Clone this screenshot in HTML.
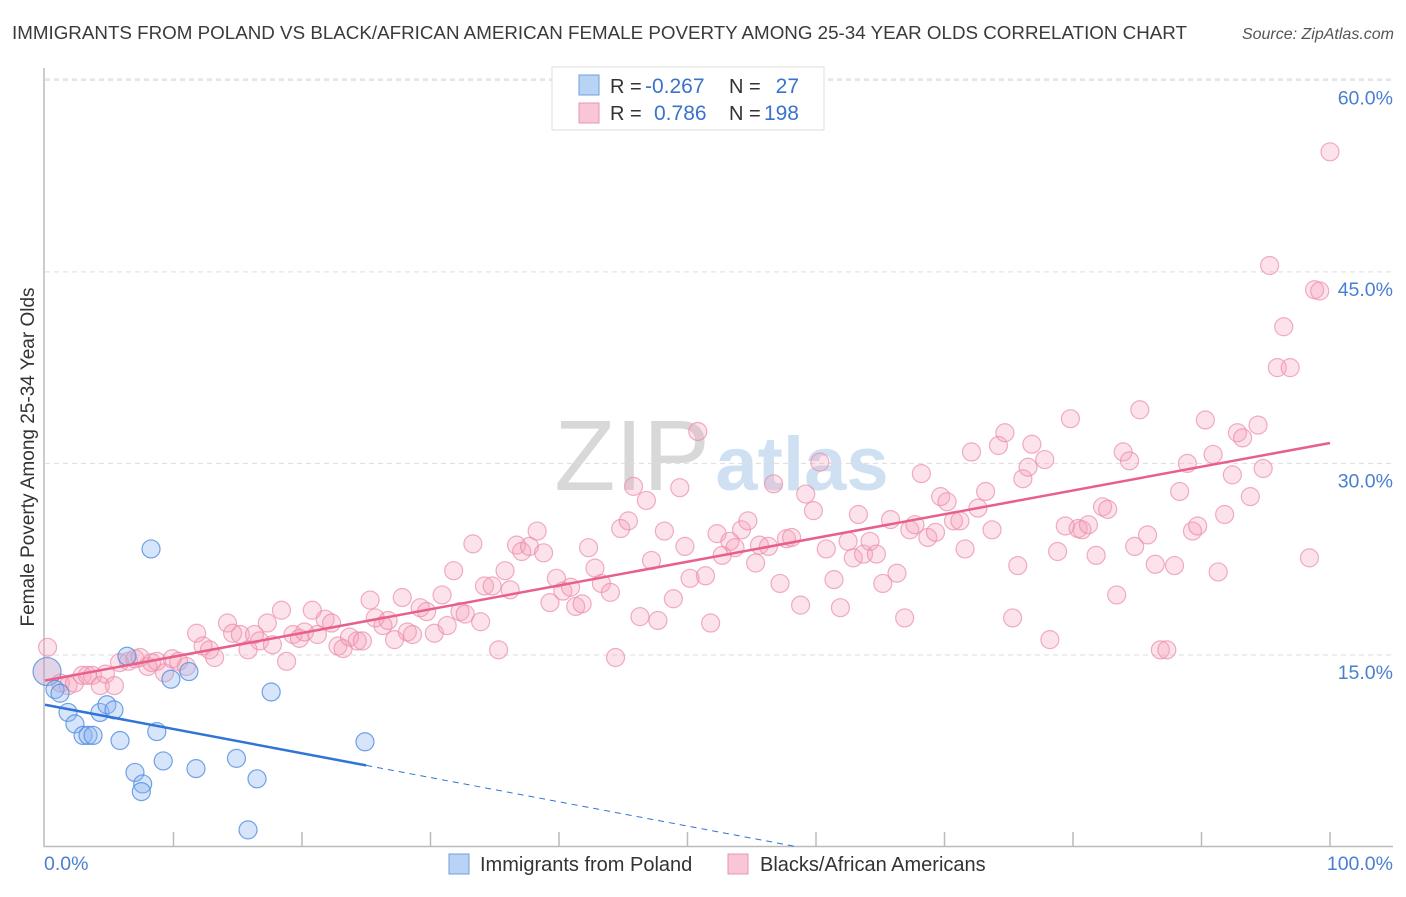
<!DOCTYPE html>
<html><head><meta charset="utf-8"><style>
body{margin:0;background:#fff;font-family:"Liberation Sans",sans-serif;}
svg text{font-family:"Liberation Sans",sans-serif;}
</style></head><body>
<svg id="chart" width="1406" height="892" viewBox="0 0 1406 892" xmlns="http://www.w3.org/2000/svg">
<text x="12" y="39" font-size="18.6" fill="#3a3a3a" textLength="1175" lengthAdjust="spacingAndGlyphs">IMMIGRANTS FROM POLAND VS BLACK/AFRICAN AMERICAN FEMALE POVERTY AMONG 25-34 YEAR OLDS CORRELATION CHART</text>
<text x="1394" y="39" font-size="16" fill="#555" font-style="italic" text-anchor="end">Source: ZipAtlas.com</text>
<g>
<text x="632" y="490" font-size="100" fill="#d8d8d8" font-family="Liberation Serif" text-anchor="middle">ZIP</text>
<text x="802" y="490" font-size="76" fill="#cfe0f3" text-anchor="middle" font-weight="bold">atlas</text>
</g>
<g id="grid"></g>
<g id="axes"></g>
<g id="marks"></g>
<text transform="translate(34,457) rotate(-90)" font-size="19" fill="#333" text-anchor="middle">Female Poverty Among 25-34 Year Olds</text>
<text x="44" y="870" font-size="19.5" fill="#4a7fd0">0.0%</text>
<text x="1393" y="870" font-size="19.5" fill="#4a7fd0" text-anchor="end">100.0%</text>
<g>
<rect x="552" y="67" width="272" height="63" fill="#fff" stroke="#ddd"/>
<rect x="579" y="75" width="20" height="20" fill="#b9d3f5" stroke="#6a9fe0"/>
<rect x="579" y="103" width="20" height="20" fill="#f9c6d5" stroke="#eb94b0"/>
<text x="610" y="93" font-size="20" fill="#333">R = </text><text x="645" y="93" font-size="21" fill="#3a72cc">-0.267</text>
<text x="729" y="93" font-size="20" fill="#333">N = </text><text x="799" y="93" font-size="21" fill="#3a72cc" text-anchor="end">27</text>
<text x="610" y="120" font-size="20" fill="#333">R = </text><text x="654" y="120" font-size="21" fill="#3a72cc">0.786</text>
<text x="729" y="120" font-size="20" fill="#333">N = </text><text x="799" y="120" font-size="21" fill="#3a72cc" text-anchor="end">198</text>
</g>
<g>
<rect x="449" y="854" width="20" height="20" fill="#b9d3f5" stroke="#6a9fe0"/>
<text x="480" y="871" font-size="20" fill="#333">Immigrants from Poland</text>
</g>
<g>
<rect x="728" y="854" width="20" height="20" fill="#f9c6d5" stroke="#eb94b0"/>
<text x="760" y="871" font-size="20" fill="#333">Blacks/African Americans</text>
</g>
</svg>
<script>
const yTicks=[15,30,45,60];
const yTickLabels=["15.0%","30.0%","45.0%","60.0%"];
const xTicks=[10,20,30,40,50,60,70,80,90,100];
const blueX=[0.16,0.78,1.17,1.79,2.33,2.96,3.35,3.74,4.28,4.82,5.37,5.84,6.38,7.0,7.6,7.5,8.25,8.7,9.2,9.8,11.2,11.75,14.9,16.5,15.8,17.6,24.9];
const blueY=[13.7,12.3,12.0,10.5,9.6,8.7,8.7,8.7,10.5,11.1,10.7,8.3,14.9,5.8,4.9,4.3,23.3,9.0,6.7,13.1,13.7,6.1,6.9,5.3,1.3,12.1,8.2];
const pinkX=[0.2,1.2,1.8,2.3,2.9,3.3,3.7,4.3,4.7,5.4,5.8,6.5,7.0,7.4,8.0,8.3,8.7,9.3,9.9,10.4,11.0,11.8,12.3,12.8,13.2,14.2,14.6,15.2,15.8,16.3,16.7,17.3,17.7,18.4,18.8,19.3,19.8,20.2,20.8,21.2,21.8,22.3,22.8,23.2,23.7,24.3,24.7,25.3,25.7,26.3,26.7,27.2,27.8,28.2,28.6,29.2,29.7,30.3,30.9,31.3,31.8,32.3,32.7,33.3,33.9,34.2,34.8,35.3,35.8,36.2,36.7,37.1,37.7,38.3,38.8,39.3,39.8,40.3,40.9,41.3,41.8,42.3,42.8,43.3,44.0,44.4,44.8,45.4,45.8,46.3,46.8,47.2,47.7,48.2,48.9,49.4,49.8,50.2,50.8,51.4,51.8,52.3,52.7,53.3,53.7,54.2,54.7,55.3,55.6,56.3,56.7,57.2,57.7,58.1,58.8,59.2,59.8,60.3,60.8,61.4,61.9,62.5,62.9,63.3,63.7,64.2,64.7,65.2,65.8,66.3,66.9,67.3,67.7,68.2,68.7,69.3,69.7,70.2,70.7,71.2,71.6,72.1,72.6,73.2,73.7,74.2,74.7,75.3,75.7,76.1,76.5,76.8,77.8,78.2,78.8,79.4,79.8,80.4,80.7,81.2,81.8,82.3,82.7,83.4,83.9,84.4,84.8,85.2,85.8,86.4,86.8,87.3,87.9,88.3,88.9,89.3,89.7,90.3,90.9,91.3,91.8,92.4,92.8,93.2,93.8,94.4,94.8,95.3,95.9,96.4,96.9,98.4,98.8,99.2,100];
const pinkY=[15.6,12.8,12.6,12.8,13.4,13.4,13.4,12.6,13.5,12.6,14.4,14.5,14.7,14.8,14.1,14.4,14.5,13.6,14.7,14.5,14.1,16.7,15.7,15.4,14.8,17.5,16.7,16.6,15.4,16.6,16.1,17.5,15.8,18.5,14.5,16.6,16.3,16.8,18.5,16.6,17.8,17.5,15.7,15.5,16.4,16.1,16.1,19.3,17.9,17.3,17.7,16.2,19.5,16.8,16.6,18.7,18.4,16.7,19.7,17.3,21.6,18.4,18.2,23.7,17.6,20.4,20.4,15.4,21.6,20.1,23.6,23.1,23.5,24.7,23.0,19.1,21.0,20.0,20.3,18.8,19.0,23.4,21.8,20.6,19.9,14.8,24.9,25.5,28.2,18.0,27.1,22.4,17.7,24.7,19.4,28.1,23.5,21.0,32.5,21.2,17.5,24.5,22.8,23.9,23.4,24.8,25.5,22.2,23.6,23.5,28.4,20.6,24.1,24.2,18.9,27.6,26.3,30.1,23.3,20.9,18.7,23.9,22.6,26.0,22.9,23.9,22.9,20.6,25.6,21.4,17.9,24.8,25.2,29.2,24.2,24.6,27.4,27.0,25.5,25.5,23.3,30.9,26.5,27.8,24.8,31.4,32.4,17.9,22.0,28.8,29.7,31.5,30.3,16.2,23.1,25.1,33.5,24.9,24.8,25.2,22.8,26.6,26.4,19.7,30.9,30.2,23.5,34.2,24.4,22.1,15.4,15.4,22.0,27.8,30.0,24.7,25.1,33.4,30.7,21.5,26.0,29.1,32.4,32.0,27.4,33.0,29.6,45.5,37.5,40.7,37.5,22.6,43.6,43.5,54.4];
const blueTrend=[11.1,-0.19];
const pinkTrend=[13.0,0.186];
const NS="http://www.w3.org/2000/svg";
const X0=45,X1=1330,Y0=846.5,YS=12.77;
function xs(v){return X0+(X1-X0)*v/100;}
function ys(v){return Y0-v*YS;}
function mk(tag,attrs,parent){const e=document.createElementNS(NS,tag);for(const k in attrs)e.setAttribute(k,attrs[k]);parent.appendChild(e);return e;}
const grid=document.getElementById('grid'),axes=document.getElementById('axes'),marks=document.getElementById('marks');
yTicks.forEach((t,i)=>{
  const l=mk('line',{x1:45,x2:1393,y1:ys(t),y2:ys(t),stroke:'#ddd','stroke-dasharray':'5,4'},grid);
  
  
  const tx=mk('text',{x:1393,y:ys(t)+24,'font-size':19.5,fill:'#4a7fd0','text-anchor':'end'},grid);
  tx.textContent=yTickLabels[i];
  
  
});
const topG=mk('line',{x1:45,x2:1393,y1:79,y2:79,stroke:'#ddd','stroke-dasharray':'5,4'},grid);


const ya=mk('line',{x1:44,x2:44,y1:68,y2:847,stroke:'#bbb','stroke-width':1.5},axes);


const xa=mk('line',{x1:44,x2:1393,y1:846.5,y2:846.5,stroke:'#bbb','stroke-width':1.5},axes);


xTicks.forEach(t=>{
  const l=mk('line',{x1:xs(t),x2:xs(t),y1:832,y2:846,stroke:'#bbb','stroke-width':1.5},axes);
  
  
});
pinkX.forEach((x,i)=>{
  const c=mk('circle',{cx:xs(x),cy:ys(pinkY[i]),r:9,fill:'rgba(244,160,186,0.3)',stroke:'rgba(235,140,170,0.7)','stroke-width':1.2},marks);
  
  
});
blueX.forEach((x,i)=>{
  const c=mk('circle',{cx:xs(x),cy:ys(blueY[i]),r:i===0?14:9,fill:i===0?'rgba(190,160,200,0.45)':'rgba(140,180,240,0.35)',stroke:'rgba(80,140,225,0.8)','stroke-width':1.2},marks);
  
  
});
const pl=mk('line',{x1:xs(0),y1:ys(pinkTrend[0]),x2:xs(100),y2:ys(pinkTrend[0]+pinkTrend[1]*100),stroke:'#e8608a','stroke-width':2.5},marks);


const bl=mk('line',{x1:xs(0),y1:ys(blueTrend[0]),x2:xs(25),y2:ys(blueTrend[0]+blueTrend[1]*25),stroke:'#2f74d6','stroke-width':2.5},marks);


const xEnd=-blueTrend[0]/blueTrend[1];
const bd=mk('line',{x1:xs(25),y1:ys(blueTrend[0]+blueTrend[1]*25),x2:xs(xEnd),y2:ys(0),stroke:'#2f74d6','stroke-width':1,'stroke-dasharray':'6,5'},marks);


</script>
</body></html>
